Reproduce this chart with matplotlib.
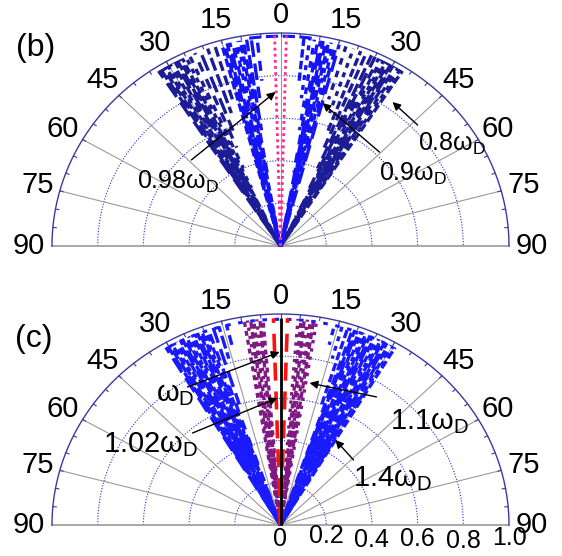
import numpy as np
import matplotlib
matplotlib.use('Agg')
import matplotlib.pyplot as plt

plt.rcParams['font.family'] = ['Liberation Sans', 'DejaVu Sans']
plt.rcParams['mathtext.fontset'] = 'custom'
plt.rcParams['mathtext.rm'] = 'Liberation Sans'
plt.rcParams['mathtext.it'] = 'Liberation Sans'

# ---------------- data ----------------
angle_ticks = [0, 15, 30, 45, 60, 75, 90]
spoke_angles = [-75, -60, -45, -30, -15, 0, 15, 30, 45, 60, 75]
radial_circles = [0.2, 0.4, 0.6, 0.8]
radial_label_values = [0, 0.2, 0.4, 0.6, 0.8, 1.0]
radial_labels = ['0', '0.2', '0.4', '0.6', '0.8', '1.0']
radial_label_drop = [0.066, 0.05, 0.07, 0.066, 0.074, 0.06]

# panel (b): ray angles (deg, mirrored on both sides) and start radius of each ray
b08_angles = [17, 19, 21, 22.5, 24, 25, 26, 26.7, 27.4, 28.1, 28.8, 29.5, 30.2,
              30.9, 31.6, 32.3, 33.0]
b08_r0 = [0.72, 0.66, 0.58, 0.5, 0.4, 0.3, 0.15, 0, 0, 0, 0, 0, 0, 0, 0, 0, 0]
b09_angles = [6, 7.5, 8.7, 9.6, 10.3, 11, 11.7, 12.4, 13.1, 13.8, 14.5, 15.2]
b09_r0 = [0.78, 0.7, 0.55, 0.35, 0.1, 0, 0, 0, 0, 0, 0, 0]
b09_top_span = [-8, 8]          # arc of dashes near the rim
b098_angles = [1.5]
b098_r0 = [0]

# panel (c)
c14_angles = [14, 16, 17.5, 18.8, 19.4, 20.0, 20.6, 21.2, 21.8, 22.4, 23.0, 23.6,
              24.2, 24.8, 25.4, 26.0, 26.6, 27.2, 27.8, 28.4, 29.0, 29.6, 30.2, 30.8]
c14_r0 = [0.88, 0.82, 0.6, 0, 0, 0, 0, 0, 0, 0, 0, 0,
          0, 0, 0, 0, 0, 0, 0, 0, 0, 0, 0, 0]
c14_top_span = [-30, 30]
c11_angles = [4.5, 5.3, 6.1, 6.9, 7.7, 8.5, 9.3]
c11_r0 = [0, 0, 0, 0, 0, 0, 0.1]
c102_angles = [1.8]
c102_r0 = [0]
c10_angles = [0]

# annotations: (label, text pos, arrow tail, arrow head) in data coords
b_notes = [(r'0.98$\omega_\mathrm{D}$', (-0.45, 0.30), (-0.39, 0.404), (-0.022, 0.723)),
           (r'0.9$\omega_\mathrm{D}$', (0.58, 0.34), (0.433, 0.441), (0.184, 0.671)),
           (r'0.8$\omega_\mathrm{D}$', (0.75, 0.48), (0.60, 0.568), (0.49, 0.676))]
c_notes = [(r'$\omega_\mathrm{D}$', (-0.46, 0.62), (-0.407, 0.654), (-0.004, 0.82)),
           (r'1.02$\omega_\mathrm{D}$', (-0.57, 0.38), (-0.385, 0.436), (-0.013, 0.602)),
           (r'1.1$\omega_\mathrm{D}$', (0.65, 0.49), (0.42, 0.607), (0.127, 0.673)),
           (r'1.4$\omega_\mathrm{D}$', (0.49, 0.22), (0.32, 0.308), (0.24, 0.403))]

fig = plt.figure(figsize=(5.62, 5.56), dpi=100)


def pol(r, a_deg):
    t = np.deg2rad(a_deg)
    return r * np.sin(t), r * np.cos(t)


def frame(ax):
    ax.set_xlim(-1, 1)
    ax.set_ylim(0, 1)
    ax.axis('off')
    th = np.linspace(-90, 90, 361)
    for r in radial_circles:
        x, y = pol(r, th)
        ax.plot(x, y, color='#2b2bd8', lw=0.8, ls=(0, (1, 1.5)), clip_on=False, zorder=1)
    for a in spoke_angles:
        x, y = pol(np.array([0, 1]), a)
        ax.plot(x, y, color='#9a9a9a', lw=0.8, clip_on=False, zorder=1)
    ax.plot([-1, 1], [0, 0], color='#9a9a9a', lw=1.2, clip_on=False, zorder=1)
    x, y = pol(1, th)
    ax.plot(x, y, color='#3a3aa0', lw=1.0, clip_on=False, zorder=5)
    for a in range(-85, 90, 5):
        x, y = pol(np.array([0.985, 1.0]), a)
        ax.plot(x, y, color='#3a3aa0', lw=0.8, clip_on=False, zorder=5)
    for a in angle_ticks:
        for s in ([1] if a == 0 else [-1, 1]):
            x, y = pol(1.085 if a == 0 else 1.1, s * a)
            ax.text(x, y, str(a), ha='center', va='center', fontsize=21, clip_on=False)


dash_styles = [(0, (3, 1.5)), (1, (2, 2)), (2, (4, 1.2)), (0.5, (1.5, 1.5)),
               (1.5, (5, 2)), (0, (2.5, 1)), (2.5, (3, 2.5))]


def rays(ax, angles, r0s, color, lw, styles, r1=0.98, z=3):
    k = 0
    for a, r0 in zip(angles, r0s):
        for s in ([1] if a == 0 else [-1, 1]):
            x, y = pol(np.array([r0, r1]), s * a)
            ax.plot(x, y, color=color, lw=lw, ls=styles[k % len(styles)],
                    clip_on=False, zorder=z, solid_capstyle='butt')
            k += 1


def rim(ax, span, r, color, lw, style):
    th = np.linspace(span[0], span[1], 120)
    x, y = pol(r, th)
    ax.plot(x, y, color=color, lw=lw, ls=style, clip_on=False, zorder=3)


def notes(ax, items, fs):
    for lab, tp, tail, head in items:
        ax.text(tp[0], tp[1], lab, ha='center', va='center', fontsize=fs, zorder=10)
        ax.annotate('', xy=head, xytext=tail,
                    arrowprops=dict(arrowstyle='-|>', color='k', lw=1.0,
                                    mutation_scale=12, shrinkA=0, shrinkB=0),
                    zorder=10)


# ---------------- panel (b) ----------------
axb = fig.add_axes([52 / 562, (556 - 246) / 556, 457 / 562, 213 / 556])
frame(axb)
rays(axb, b08_angles, b08_r0, '#1c1c96', 2.4, dash_styles)
rays(axb, b09_angles, b09_r0, '#1414f5', 2.4, dash_styles[::-1])
rim(axb, b09_top_span, 0.985, '#1414f5', 2.2, (0, (4, 1.5)))
rays(axb, b098_angles, b098_r0, '#ff2a8a', 2.0, [(0, (1, 1.2))], r1=0.99, z=4)
notes(axb, b_notes, 18)
axb.text(-1.07, 0.93, '(b)', ha='center', va='center', fontsize=23)

# ---------------- panel (c) ----------------
axc = fig.add_axes([52 / 562, (556 - 525) / 556, 457 / 562, 211 / 556])
frame(axc)
rays(axc, c14_angles, c14_r0, '#1a1aff', 2.4, dash_styles)
rim(axc, c14_top_span, 0.975, '#1a1aff', 2.2, (0, (1.5, 2.5)))
rays(axc, c11_angles, c11_r0, '#7e1a82', 2.4, [(0, (1.5, 1.2)), (1, (1, 1.5)), (0.5, (2, 1))])
rays(axc, c102_angles, c102_r0, '#ff1010', 2.6, [(0, (5, 3))], r1=0.98, z=4)
rays(axc, c10_angles, [0], 'k', 2.0, ['-'], r1=0.98, z=5)
notes(axc, c_notes, 21)
axc.text(-1.08, 0.88, '(c)', ha='center', va='center', fontsize=23)
for v, lab, d in zip(radial_label_values, radial_labels, radial_label_drop):
    axc.text(v, -d, lab, ha='center', va='center', fontsize=18, clip_on=False)

fig.savefig('out.png', dpi=100)
